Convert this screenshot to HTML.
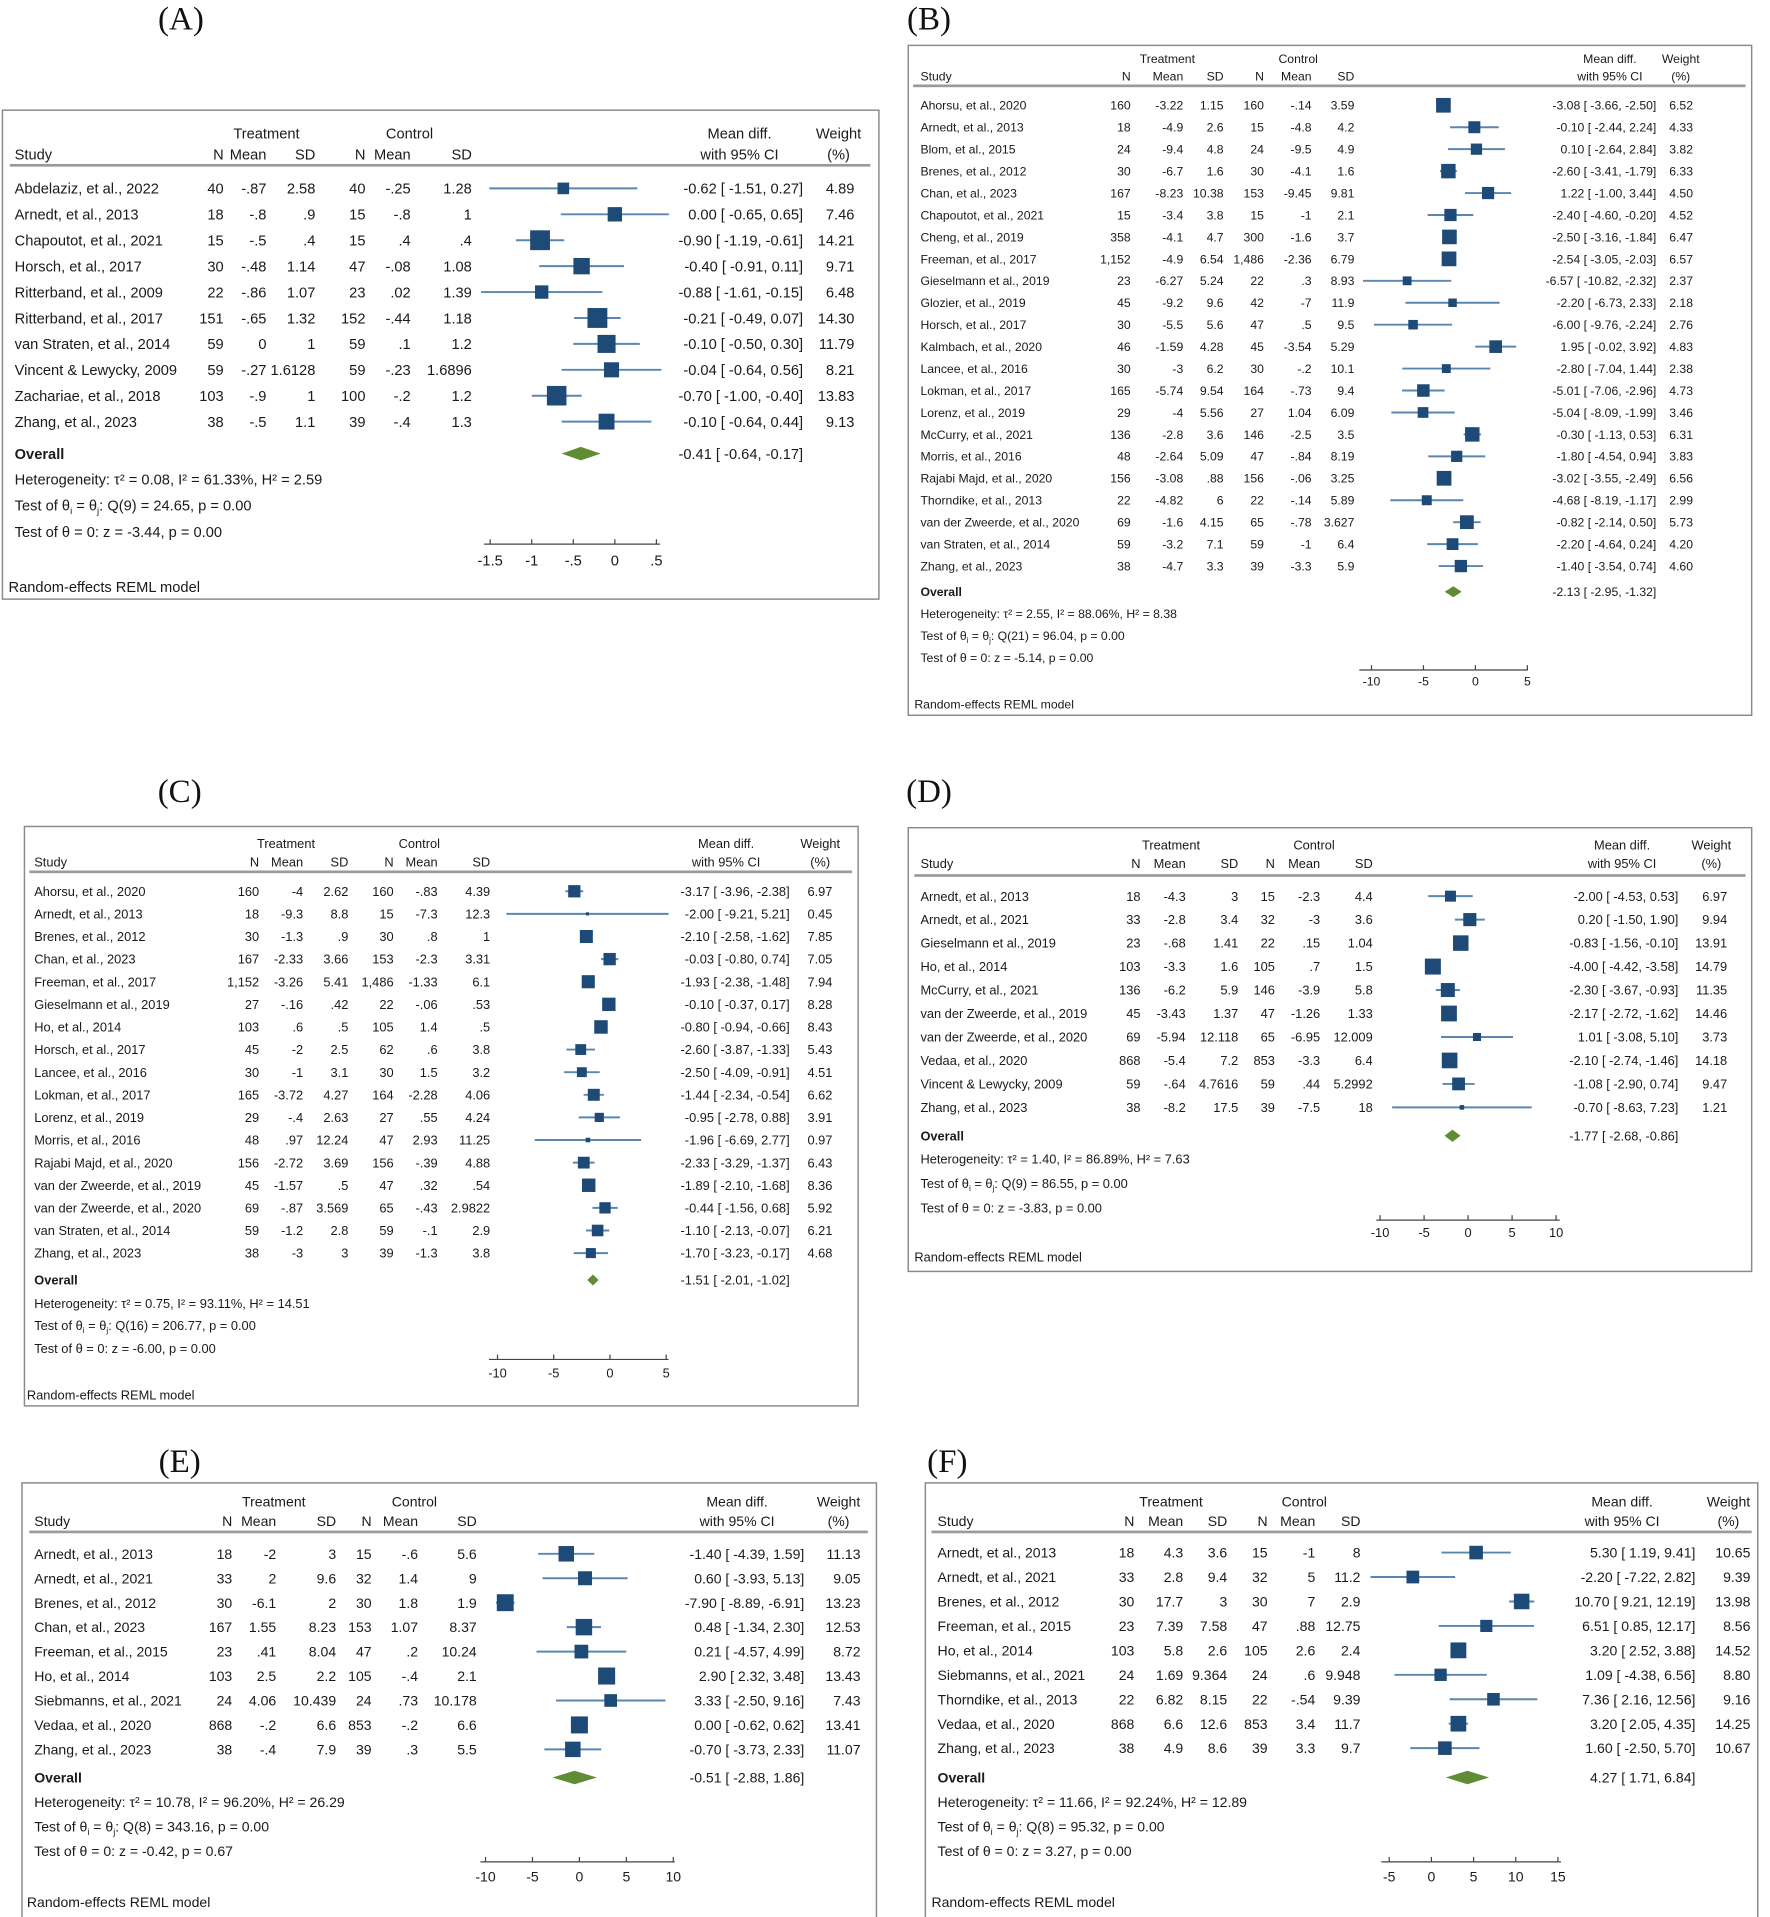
<!DOCTYPE html>
<html><head><meta charset="utf-8">
<style>
html,body{margin:0;padding:0;background:#fff;}
svg{display:block;font-family:"Liberation Sans Narrow","Liberation Sans",sans-serif;}
</style></head>
<body>
<svg id="fig" width="1770" height="1917" viewBox="0 0 1448 1568" xmlns="http://www.w3.org/2000/svg"></svg>
<script>
// ---------- Panel A data ----------
const aStudy=["Abdelaziz, et al., 2022","Arnedt, et al., 2013","Chapoutot, et al., 2021","Horsch,  et al., 2017","Ritterband, et al., 2009","Ritterband, et al., 2017","van Straten, et al., 2014","Vincent & Lewycky, 2009","Zachariae, et al., 2018","Zhang, et al., 2023"];
const aStats=[["40","-.87","2.58","40","-.25","1.28"],["18","-.8",".9","15","-.8","1"],["15","-.5",".4","15",".4",".4"],["30","-.48","1.14","47","-.08","1.08"],["22","-.86","1.07","23",".02","1.39"],["151","-.65","1.32","152","-.44","1.18"],["59","0","1","59",".1","1.2"],["59","-.27","1.6128","59","-.23","1.6896"],["103","-.9","1","100","-.2","1.2"],["38","-.5","1.1","39","-.4","1.3"]];
const aMD=[-0.62,0.00,-0.90,-0.40,-0.88,-0.21,-0.10,-0.04,-0.70,-0.10];
const aLo=[-1.51,-0.65,-1.19,-0.91,-1.61,-0.49,-0.50,-0.64,-1.00,-0.64];
const aHi=[0.27,0.65,-0.61,0.11,-0.15,0.07,0.30,0.56,-0.40,0.44];
const aWt=[4.89,7.46,14.21,9.71,6.48,14.30,11.79,8.21,13.83,9.13];
const aOverall=[-0.41,-0.64,-0.17];
const aHet=["τ² = 0.08, I² = 61.33%, H² = 2.59","Q(9) = 24.65, p = 0.00","z = -3.44, p = 0.00"];
const aTicks=[-1.5,-1,-0.5,0,0.5];
const aTickLabels=["-1.5","-1","-.5","0",".5"];

// ---------- Panel B data ----------
const bStudy=["Ahorsu, et al., 2020","Arnedt, et al., 2013","Blom, et al., 2015","Brenes, et al., 2012","Chan, et al., 2023","Chapoutot, et al., 2021","Cheng, et al., 2019","Freeman, et al., 2017","Gieselmann et al., 2019","Glozier, et al., 2019","Horsch,  et al., 2017","Kalmbach, et al., 2020","Lancee, et al., 2016","Lokman, et al., 2017","Lorenz, et al., 2019","McCurry, et al., 2021","Morris, et al., 2016","Rajabi Majd, et al., 2020","Thorndike, et al., 2013","van der Zweerde, et al., 2020","van Straten, et al., 2014","Zhang, et al., 2023"];
const bStats=[["160","-3.22","1.15","160","-.14","3.59"],["18","-4.9","2.6","15","-4.8","4.2"],["24","-9.4","4.8","24","-9.5","4.9"],["30","-6.7","1.6","30","-4.1","1.6"],["167","-8.23","10.38","153","-9.45","9.81"],["15","-3.4","3.8","15","-1","2.1"],["358","-4.1","4.7","300","-1.6","3.7"],["1,152","-4.9","6.54","1,486","-2.36","6.79"],["23","-6.27","5.24","22",".3","8.93"],["45","-9.2","9.6","42","-7","11.9"],["30","-5.5","5.6","47",".5","9.5"],["46","-1.59","4.28","45","-3.54","5.29"],["30","-3","6.2","30","-.2","10.1"],["165","-5.74","9.54","164","-.73","9.4"],["29","-4","5.56","27","1.04","6.09"],["136","-2.8","3.6","146","-2.5","3.5"],["48","-2.64","5.09","47","-.84","8.19"],["156","-3.08",".88","156","-.06","3.25"],["22","-4.82","6","22","-.14","5.89"],["69","-1.6","4.15","65","-.78","3.627"],["59","-3.2","7.1","59","-1","6.4"],["38","-4.7","3.3","39","-3.3","5.9"]];
const bMD=[-3.08,-0.10,0.10,-2.60,1.22,-2.40,-2.50,-2.54,-6.57,-2.20,-6.00,1.95,-2.80,-5.01,-5.04,-0.30,-1.80,-3.02,-4.68,-0.82,-2.20,-1.40];
const bLo=[-3.66,-2.44,-2.64,-3.41,-1.00,-4.60,-3.16,-3.05,-10.82,-6.73,-9.76,-0.02,-7.04,-7.06,-8.09,-1.13,-4.54,-3.55,-8.19,-2.14,-4.64,-3.54];
const bHi=[-2.50,2.24,2.84,-1.79,3.44,-0.20,-1.84,-2.03,-2.32,2.33,-2.24,3.92,1.44,-2.96,-1.99,0.53,0.94,-2.49,-1.17,0.50,0.24,0.74];
const bWt=[6.52,4.33,3.82,6.33,4.50,4.52,6.47,6.57,2.37,2.18,2.76,4.83,2.38,4.73,3.46,6.31,3.83,6.56,2.99,5.73,4.20,4.60];
const bOverall=[-2.13,-2.95,-1.32];
const bHet=["τ² = 2.55, I² = 88.06%, H² = 8.38","Q(21) = 96.04, p = 0.00","z = -5.14, p = 0.00"];
const bTicks=[-10,-5,0,5];
const bTickLabels=["-10","-5","0","5"];

// ---------- Panel C data ----------
const cStudy=["Ahorsu, et al., 2020","Arnedt, et al., 2013","Brenes, et al., 2012","Chan, et al., 2023","Freeman, et al., 2017","Gieselmann et al., 2019","Ho, et al., 2014","Horsch,  et al., 2017","Lancee, et al., 2016","Lokman, et al., 2017","Lorenz, et al., 2019","Morris, et al., 2016","Rajabi Majd, et al., 2020","van der Zweerde, et al., 2019","van der Zweerde, et al., 2020","van Straten, et al., 2014","Zhang, et al., 2023"];
const cStats=[["160","-4","2.62","160","-.83","4.39"],["18","-9.3","8.8","15","-7.3","12.3"],["30","-1.3",".9","30",".8","1"],["167","-2.33","3.66","153","-2.3","3.31"],["1,152","-3.26","5.41","1,486","-1.33","6.1"],["27","-.16",".42","22","-.06",".53"],["103",".6",".5","105","1.4",".5"],["45","-2","2.5","62",".6","3.8"],["30","-1","3.1","30","1.5","3.2"],["165","-3.72","4.27","164","-2.28","4.06"],["29","-.4","2.63","27",".55","4.24"],["48",".97","12.24","47","2.93","11.25"],["156","-2.72","3.69","156","-.39","4.88"],["45","-1.57",".5","47",".32",".54"],["69","-.87","3.569","65","-.43","2.9822"],["59","-1.2","2.8","59","-.1","2.9"],["38","-3","3","39","-1.3","3.8"]];
const cMD=[-3.17,-2.00,-2.10,-0.03,-1.93,-0.10,-0.80,-2.60,-2.50,-1.44,-0.95,-1.96,-2.33,-1.89,-0.44,-1.10,-1.70];
const cLo=[-3.96,-9.21,-2.58,-0.80,-2.38,-0.37,-0.94,-3.87,-4.09,-2.34,-2.78,-6.69,-3.29,-2.10,-1.56,-2.13,-3.23];
const cHi=[-2.38,5.21,-1.62,0.74,-1.48,0.17,-0.66,-1.33,-0.91,-0.54,0.88,2.77,-1.37,-1.68,0.68,-0.07,-0.17];
const cWt=[6.97,0.45,7.85,7.05,7.94,8.28,8.43,5.43,4.51,6.62,3.91,0.97,6.43,8.36,5.92,6.21,4.68];
const cOverall=[-1.51,-2.01,-1.02];
const cHet=["τ² = 0.75, I² = 93.11%, H² = 14.51","Q(16) = 206.77, p = 0.00","z = -6.00, p = 0.00"];
const cTicks=[-10,-5,0,5];
const cTickLabels=["-10","-5","0","5"];

// ---------- Panel D data ----------
const dStudy=["Arnedt, et al., 2013","Arnedt, et al., 2021","Gieselmann et al., 2019","Ho, et al., 2014","McCurry, et al., 2021","van der Zweerde, et al., 2019","van der Zweerde, et al., 2020","Vedaa, et al., 2020","Vincent & Lewycky, 2009","Zhang, et al., 2023"];
const dStats=[["18","-4.3","3","15","-2.3","4.4"],["33","-2.8","3.4","32","-3","3.6"],["23","-.68","1.41","22",".15","1.04"],["103","-3.3","1.6","105",".7","1.5"],["136","-6.2","5.9","146","-3.9","5.8"],["45","-3.43","1.37","47","-1.26","1.33"],["69","-5.94","12.118","65","-6.95","12.009"],["868","-5.4","7.2","853","-3.3","6.4"],["59","-.64","4.7616","59",".44","5.2992"],["38","-8.2","17.5","39","-7.5","18"]];
const dMD=[-2.00,0.20,-0.83,-4.00,-2.30,-2.17,1.01,-2.10,-1.08,-0.70];
const dLo=[-4.53,-1.50,-1.56,-4.42,-3.67,-2.72,-3.08,-2.74,-2.90,-8.63];
const dHi=[0.53,1.90,-0.10,-3.58,-0.93,-1.62,5.10,-1.46,0.74,7.23];
const dWt=[6.97,9.94,13.91,14.79,11.35,14.46,3.73,14.18,9.47,1.21];
const dOverall=[-1.77,-2.68,-0.86];
const dHet=["τ² = 1.40, I² = 86.89%, H² = 7.63","Q(9) = 86.55, p = 0.00","z = -3.83, p = 0.00"];
const dTicks=[-10,-5,0,5,10];
const dTickLabels=["-10","-5","0","5","10"];

// ---------- Panel E data ----------
const eStudy=["Arnedt, et al., 2013","Arnedt, et al., 2021","Brenes, et al., 2012","Chan, et al., 2023","Freeman, et al., 2015","Ho, et al., 2014","Siebmanns, et al., 2021","Vedaa, et al., 2020","Zhang, et al., 2023"];
const eStats=[["18","-2","3","15","-.6","5.6"],["33","2","9.6","32","1.4","9"],["30","-6.1","2","30","1.8","1.9"],["167","1.55","8.23","153","1.07","8.37"],["23",".41","8.04","47",".2","10.24"],["103","2.5","2.2","105","-.4","2.1"],["24","4.06","10.439","24",".73","10.178"],["868","-.2","6.6","853","-.2","6.6"],["38","-.4","7.9","39",".3","5.5"]];
const eMD=[-1.40,0.60,-7.90,0.48,0.21,2.90,3.33,0.00,-0.70];
const eLo=[-4.39,-3.93,-8.89,-1.34,-4.57,2.32,-2.50,-0.62,-3.73];
const eHi=[1.59,5.13,-6.91,2.30,4.99,3.48,9.16,0.62,2.33];
const eWt=[11.13,9.05,13.23,12.53,8.72,13.43,7.43,13.41,11.07];
const eOverall=[-0.51,-2.88,1.86];
const eHet=["τ² = 10.78, I² = 96.20%, H² = 26.29","Q(8) = 343.16, p = 0.00","z = -0.42, p = 0.67"];
const eTicks=[-10,-5,0,5,10];
const eTickLabels=["-10","-5","0","5","10"];

// ---------- Panel F data ----------
const fStudy=["Arnedt, et al., 2013","Arnedt, et al., 2021","Brenes, et al., 2012","Freeman, et al., 2015","Ho, et al., 2014","Siebmanns, et al., 2021","Thorndike, et al., 2013","Vedaa, et al., 2020","Zhang, et al., 2023"];
const fStats=[["18","4.3","3.6","15","-1","8"],["33","2.8","9.4","32","5","11.2"],["30","17.7","3","30","7","2.9"],["23","7.39","7.58","47",".88","12.75"],["103","5.8","2.6","105","2.6","2.4"],["24","1.69","9.364","24",".6","9.948"],["22","6.82","8.15","22","-.54","9.39"],["868","6.6","12.6","853","3.4","11.7"],["38","4.9","8.6","39","3.3","9.7"]];
const fMD=[5.30,-2.20,10.70,6.51,3.20,1.09,7.36,3.20,1.60];
const fLo=[1.19,-7.22,9.21,0.85,2.52,-4.38,2.16,2.05,-2.50];
const fHi=[9.41,2.82,12.19,12.17,3.88,6.56,12.56,4.35,5.70];
const fWt=[10.65,9.39,13.98,8.56,14.52,8.80,9.16,14.25,10.67];
const fOverall=[4.27,1.71,6.84];
const fHet=["τ² = 11.66, I² = 92.24%, H² = 12.89","Q(8) = 95.32, p = 0.00","z = 3.27, p = 0.00"];
const fTicks=[-5,0,5,10,15];
const fTickLabels=["-5","0","5","10","15"];

const NS="http://www.w3.org/2000/svg";
const svg=document.getElementById('fig');
function mk(tag,attrs,parent,txt){
  const e=document.createElementNS(NS,tag);
  for(const k in attrs) e.setAttribute(k,attrs[k]);
  if(txt!==undefined) e.textContent=txt;
  parent.appendChild(e);
  return e;
}
function f2(v){return (v<0?"-":"")+Math.abs(v).toFixed(2);}
function ciStr(md,lo,hi){return f2(md)+" [ "+f2(lo).padStart(5," ")+", "+f2(hi).padStart(5," ")+"]";}

function drawPanel(id,c,study,stats,md,lo,hi,wt,ov,het,ticks,tickLabels){
  const g=mk('g',{},svg);
  
  
  const fs=c.fs, off=fs*0.36;
  const sx=v=>c.zero+v*c.ppu;
  const lab=mk('text',{x:c.label[0],y:c.label[1]+9,'text-anchor':'middle','font-family':'"Liberation Serif",serif','font-size':27,fill:'#111'},g,'('+id.toUpperCase()+')');
  
  
  const box=mk('rect',{x:c.box[0],y:c.box[1],width:c.box[2],height:c.box[3],fill:'none',stroke:'#8a8a8a','stroke-width':1.2},g);
  
  
  const T=(x,y,s,anchor,extra)=>{const a={x:x,y:y+off,'font-size':fs,fill:'#1a1a1a','text-anchor':anchor||'start'};Object.assign(a,extra||{});return mk('text',a,g,s);};
  const h1=T(c.trtC,c.h1,'Treatment','middle');  
  const h2=T(c.ctlC,c.h1,'Control','middle');  
  const h3=T(c.studyX,c.h2,'Study');  
  const cn=['N','Mean','SD','N','Mean','SD'];
  cn.forEach((n,i)=>{const t=T(c.cols[i],c.h2,n,'end');});
  const h4=T(c.ciC,c.h1,'Mean diff.','middle');  
  const h5=T(c.ciC,c.h2,'with 95% CI','middle');  
  const h6=T(c.wC,c.h1,'Weight','middle');  
  const h7=T(c.wC,c.h2,'(%)','middle');  
  const hl=mk('rect',{x:c.line[1],y:c.line[0]-1,width:c.line[2]-c.line[1],height:2.2,fill:'#9a9a9a'},g);
   
  study.forEach((s,i)=>{
    const y=c.row0+i*c.dy;
    const st=T(c.studyX,y,s,'start',{'xml:space':'preserve'});  
    stats[i].forEach((v,j)=>{const t=T(c.cols[j],y,v,'end');  });
    const ln=mk('line',{x1:sx(lo[i]),x2:sx(hi[i]),y1:y,y2:y,stroke:'#5a86b0','stroke-width':1.6},g);
     
    const side=c.k*Math.sqrt(wt[i]);
    const sq=mk('rect',{x:sx(md[i])-side/2,y:y-side/2,width:side,height:side,fill:'#1d4a76'},g);
     
    const ct=T(c.ciRight,y,ciStr(md[i],lo[i],hi[i]),'end',{'xml:space':'preserve'});  
    const wtt=T(c.wRight,y,wt[i].toFixed(2),'end');  
  });
  const ot=T(c.studyX,c.ov,'Overall','start',{'font-weight':'bold'});  
  const dh=c.dH/2;
  const dm=mk('polygon',{points:`${sx(ov[1])},${c.ov} ${sx(ov[0])},${c.ov-dh} ${sx(ov[2])},${c.ov} ${sx(ov[0])},${c.ov+dh}`,fill:'#5f8c35'},g);
   
  const oc=T(c.ciRight,c.ov,ciStr(ov[0],ov[1],ov[2]),'end',{'xml:space':'preserve'});  
  const t1=T(c.studyX,c.het[0],'Heterogeneity: '+het[0]);  
  const t2=T(c.studyX,c.het[1],'Test of θ');  
  mk('tspan',{'font-size':fs*0.65,dy:fs*0.25},t2,'i');
  mk('tspan',{dy:-fs*0.25},t2,' = θ');
  mk('tspan',{'font-size':fs*0.65,dy:fs*0.25},t2,'j');
  mk('tspan',{dy:-fs*0.25},t2,': '+het[1]);
  const t3=T(c.studyX,c.het[2],'Test of θ = 0: '+het[2]);  
  const ax=mk('line',{x1:c.ax[1],x2:c.ax[2],y1:c.ax[0],y2:c.ax[0],stroke:'#444','stroke-width':1},g);
   
  ticks.forEach((v,i)=>{
    const tk=mk('line',{x1:sx(v),x2:sx(v),y1:c.ax[0],y2:c.ax[0]-4,stroke:'#444','stroke-width':1},g);
     
    const tl=T(sx(v),c.ax[3],tickLabels[i],'middle');  
  });
  const rm=T(c.reml[0],c.reml[1],'Random-effects REML model');  
}

drawPanel('a',{fs:12,label:[148,15],box:[2,90,717,400],studyX:12,cols:[183,218,258,299,336,386],h1:109,h2:126,trtC:218,ctlC:335,line:[135,8,712],row0:154,dy:21.2,ciRight:657,ciC:605,wRight:699,wC:686,ov:371,het:[392,413,435],zero:503,ppu:68,ax:[445,396,540,458],reml:[7,480],k:4.3,dH:11},aStudy,aStats,aMD,aLo,aHi,aWt,aOverall,aHet,aTicks,aTickLabels);
drawPanel('b',{fs:10,label:[760,15],box:[743,37,690,548],studyX:753,cols:[925,968,1001,1034,1073,1108],h1:48,h2:62,trtC:955,ctlC:1062,line:[70,747,1428],row0:86,dy:17.95,ciRight:1355,ciC:1317,wRight:1385,wC:1375,ov:484,het:[502,520,538],zero:1207,ppu:8.5,ax:[548,1112,1250,557],reml:[748,576],k:4.7,dH:9},bStudy,bStats,bMD,bLo,bHi,bWt,bOverall,bHet,bTicks,bTickLabels);
drawPanel('c',{fs:10.5,label:[147,647],box:[20,676,682,474],studyX:28,cols:[212,248,285,322,358,401],h1:690,h2:705,trtC:234,ctlC:343,line:[713,24,697],row0:729,dy:18.5,ciRight:646,ciC:594,wRight:681,wC:671,ov:1047,het:[1066,1084,1103],zero:499,ppu:9.2,ax:[1112,400,547,1123],reml:[22,1141],k:3.8,dH:9},cStudy,cStats,cMD,cLo,cHi,cWt,cOverall,cHet,cTicks,cTickLabels);
drawPanel('d',{fs:10.5,label:[760,647],box:[743,677,690,363],studyX:753,cols:[933,970,1013,1043,1080,1123],h1:691,h2:706,trtC:958,ctlC:1075,line:[716,748,1428],row0:733,dy:19.2,ciRight:1373,ciC:1327,wRight:1413,wC:1400,ov:929,het:[948,968,988],zero:1201,ppu:7.2,ax:[998,1126,1276,1008],reml:[748,1028],k:3.4,dH:10},dStudy,dStats,dMD,dLo,dHi,dWt,dOverall,dHet,dTicks,dTickLabels);
drawPanel('e',{fs:11.5,label:[147,1195],box:[18,1213,699,360],studyX:28,cols:[190,226,275,304,342,390],h1:1228,h2:1244,trtC:224,ctlC:339,line:[1253,24,710],row0:1271,dy:20,ciRight:658,ciC:603,wRight:704,wC:686,ov:1454,het:[1474,1494,1514],zero:474,ppu:7.68,ax:[1523,393,552,1535],reml:[22,1556],k:3.8,dH:11},eStudy,eStats,eMD,eLo,eHi,eWt,eOverall,eHet,eTicks,eTickLabels);
drawPanel('f',{fs:11.5,label:[775,1195],box:[757,1213,681,360],studyX:767,cols:[928,968,1004,1037,1076,1113],h1:1228,h2:1244,trtC:958,ctlC:1067,line:[1253,762,1433],row0:1270,dy:20,ciRight:1387,ciC:1327,wRight:1432,wC:1414,ov:1454,het:[1474,1494,1514],zero:1171,ppu:6.9,ax:[1523,1130,1277,1535],reml:[762,1556],k:3.4,dH:11},fStudy,fStats,fMD,fLo,fHi,fWt,fOverall,fHet,fTicks,fTickLabels);
</script>
</body></html>
